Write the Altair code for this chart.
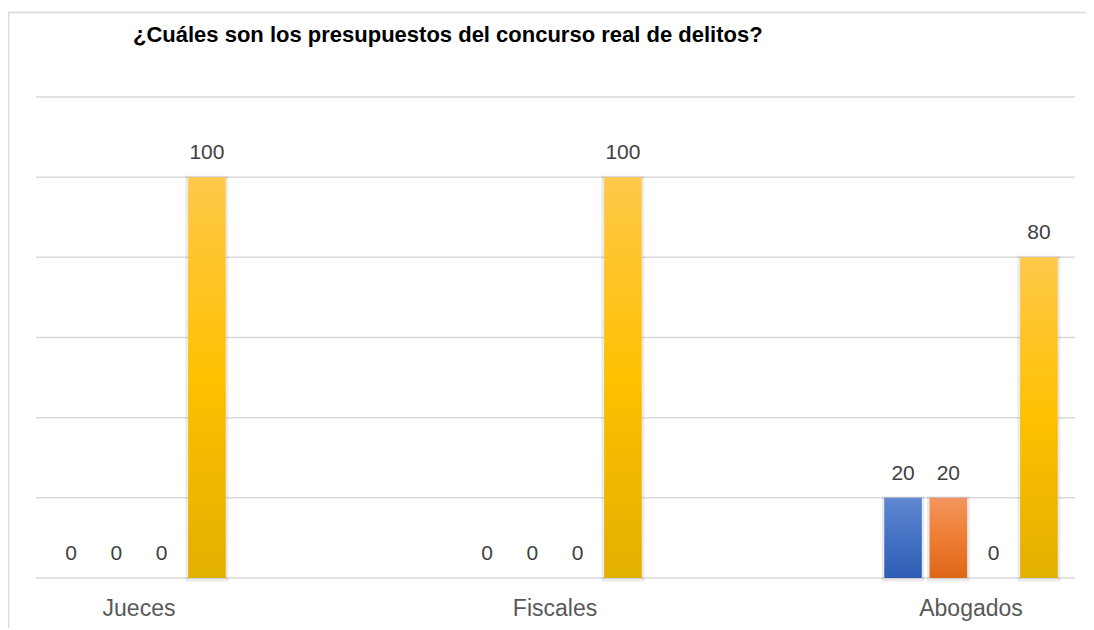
import altair as alt
import pandas as pd

categories = ["Jueces", "Fiscales", "Abogados"]
series = ["Serie 1", "Serie 2", "Serie 3", "Serie 4"]
values_s1 = [0, 0, 20]
values_s2 = [0, 0, 20]
values_s3 = [0, 0, 0]
values_s4 = [100, 100, 80]
y_ticks = [0, 20, 40, 60, 80, 100, 120]
title_text = "¿Cuáles son los presupuestos del concurso real de delitos?"

series_values = [values_s1, values_s2, values_s3, values_s4]
rows = []
for s, vals in zip(series, series_values):
    for c, v in zip(categories, vals):
        rows.append({"cat": c, "serie": s, "valor": v})
df = pd.DataFrame(rows)

gradients = {
    "Serie 1": ["#6188d1", "#4472c4", "#2e5db4"],
    "Serie 2": ["#f2955e", "#ed7d31", "#df6619"],
    "Serie 3": ["#b5b5b5", "#a5a5a5", "#939393"],
    "Serie 4": ["#ffc94a", "#ffc000", "#e2b000"],
}

x_enc = alt.X(
    "cat:N",
    sort=categories,
    scale=alt.Scale(range=[-105, 1143], paddingInner=0, paddingOuter=0),
    axis=alt.Axis(
        title=None, labelAngle=0, labelFont="Liberation Sans", labelFontSize=23,
        labelColor="#595959", labelBaseline="alphabetic", labelPadding=37,
        domain=False, ticks=False, grid=False,
    ),
)
xo_enc = alt.XOffset(
    "serie:N", sort=series,
    scale=alt.Scale(range=[117.4, 298.6], paddingInner=0.17, paddingOuter=0.085),
)
y_scale = alt.Scale(domain=[0, 120])
y_enc = alt.Y("valor:Q", scale=y_scale, axis=None)

# gridlines
grid = alt.Chart(pd.DataFrame({"v": y_ticks})).mark_rule(
    color="#d9d9d9", strokeWidth=1.5,
).encode(
    y=alt.Y("v:Q", scale=y_scale, axis=None),
    x=alt.value(0), x2=alt.value(1039),
)

base = alt.Chart(df)

shadow = base.transform_filter(alt.datum.valor > 0).mark_bar(
    color="#000000", stroke="#000000", strokeWidth=5, opacity=0.08, yOffset=1,
).encode(x=x_enc, xOffset=xo_enc, y=y_enc)

layers = [grid, shadow]
for s in series:
    c0, c1, c2 = gradients[s]
    grad = {
        "gradient": "linear", "x1": 0, "x2": 0, "y1": 0, "y2": 1,
        "stops": [
            {"offset": 0, "color": c0},
            {"offset": 0.5, "color": c1},
            {"offset": 1, "color": c2},
        ],
    }
    layers.append(
        base.transform_filter(alt.datum.serie == s)
        .mark_bar(color=grad)
        .encode(x=x_enc, xOffset=xo_enc, y=y_enc)
    )

labels = base.mark_text(
    font="Liberation Sans", fontSize=21, color="#404040",
    baseline="alphabetic", align="center", dy=-18,
).encode(x=x_enc, xOffset=xo_enc, y=y_enc, text=alt.Text("valor:Q", format="d"))
layers.append(labels)

border = alt.Chart(pd.DataFrame({"a": [0]})).mark_rect(
    fillOpacity=0, stroke="#d9d9d9", strokeWidth=1.5,
).encode(
    x=alt.value(-27.5), x2=alt.value(1300),
    y=alt.value(-84.5), y2=alt.value(800),
)

chart = alt.layer(border, *layers).properties(
    width=1039,
    height=481,
    title=alt.TitleParams(
        title_text, anchor="start", frame="group", dx=97, offset=-52.25,
        baseline="alphabetic", font="Liberation Sans", fontSize=22,
        fontWeight="bold", color="#000000",
    ),
    autosize=alt.AutoSizeParams(type="none"),
    padding={"left": 28, "top": 89, "right": 11, "bottom": 50},
    background="white",
).configure_view(stroke=None)

chart.save("out.html", embed_options={"renderer": "svg", "actions": False})
